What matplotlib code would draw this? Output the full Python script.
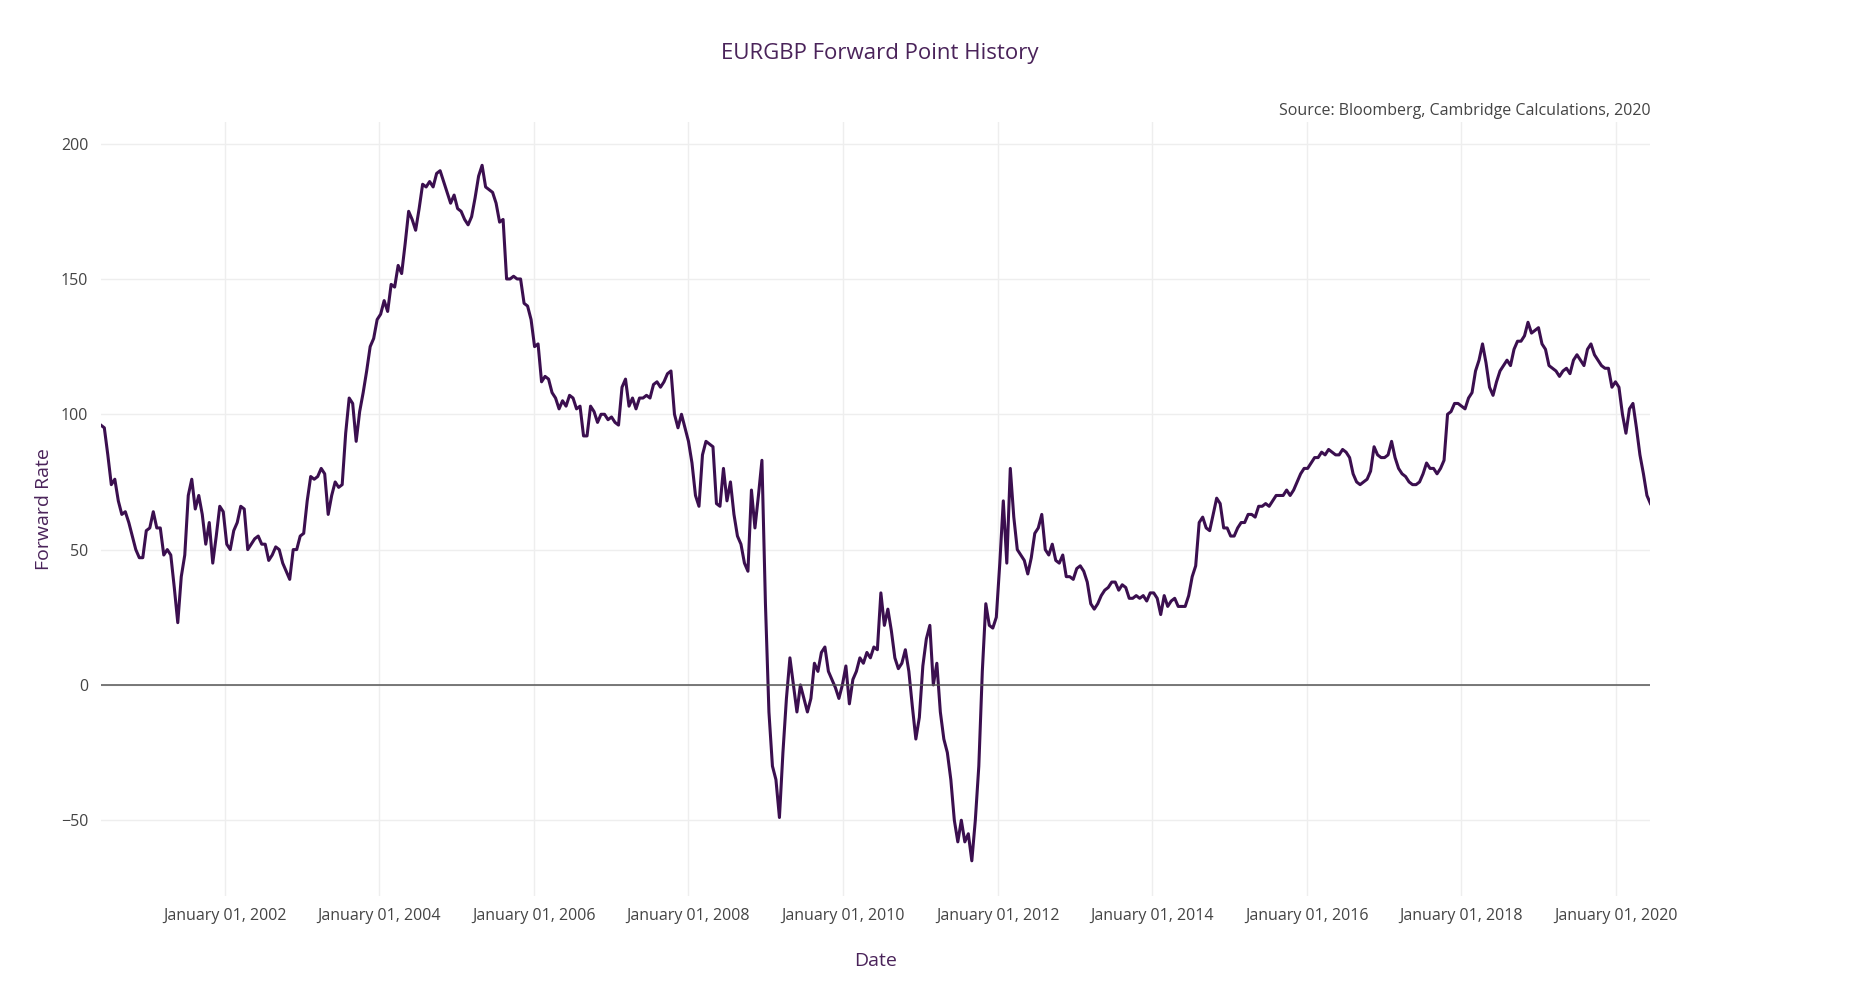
import numpy as np
import matplotlib.pyplot as plt
import matplotlib.dates as mdates
import datetime as dt

# forward points, roughly evenly spaced from mid-2000 to mid-2020
points = [96, 95, 85, 74, 76, 68, 63, 64, 60, 55, 50, 47, 47, 57, 58, 64, 58, 58, 48, 50, 48, 36, 23, 40, 48,
          70, 76, 65, 70, 63, 52, 60, 45, 55, 66, 64, 52, 50, 57, 60, 66, 65, 50, 52, 54, 55, 52, 52, 46, 48,
          51, 50, 45, 42, 39, 50, 50, 55, 56, 68, 77, 76, 77, 80, 78, 63, 70, 75, 73, 74, 93, 106, 104, 90, 101,
          108, 116, 125, 128, 135, 137, 142, 138, 148, 147, 155, 152, 163, 175, 172, 168, 176, 185, 184, 186,
          184, 189, 190, 186, 182, 178, 181, 176, 175, 172, 170, 173, 180, 188, 192, 184, 183, 182, 178, 171,
          172, 150, 150, 151, 150, 150, 141, 140, 135, 125, 126, 112, 114, 113, 108, 106, 102, 105, 103, 107,
          106, 102, 103, 92, 92, 103, 101, 97, 100, 100, 98, 99, 97, 96, 110, 113, 103, 106, 102, 106, 106,
          107, 106, 111, 112, 110, 112, 115, 116, 100, 95, 100, 95, 90, 82, 70, 66, 85, 90, 89, 88, 67, 66, 80,
          68, 75, 63, 55, 52, 45, 42, 72, 58, 70, 83, 30, -10, -30, -35, -49, -25, -5, 10, 0, -10, 0, -5, -10,
          -5, 8, 5, 12, 14, 5, 2, -1, -5, 0, 7, -7, 2, 5, 10, 8, 12, 10, 14, 13, 34, 22, 28, 20, 10, 6, 8, 13,
          5, -8, -20, -12, 7, 17, 22, 0, 8, -10, -20, -25, -35, -50, -58, -50, -58, -55, -65, -50, -30, 5, 30,
          22, 21, 25, 45, 68, 45, 80, 62, 50, 48, 46, 41, 47, 56, 58, 63, 50, 48, 52, 46, 45, 48, 40, 40, 39,
          43, 44, 42, 38, 30, 28, 30, 33, 35, 36, 38, 38, 35, 37, 36, 32, 32, 33, 32, 33, 31, 34, 34, 32, 26,
          33, 29, 31, 32, 29, 29, 29, 33, 40, 44, 60, 62, 58, 57, 63, 69, 67, 58, 58, 55, 55, 58, 60, 60, 63,
          63, 62, 66, 66, 67, 66, 68, 70, 70, 70, 72, 70, 72, 75, 78, 80, 80, 82, 84, 84, 86, 85, 87, 86, 85,
          85, 87, 86, 84, 78, 75, 74, 75, 76, 79, 88, 85, 84, 84, 85, 90, 84, 80, 78, 77, 75, 74, 74, 75, 78,
          82, 80, 80, 78, 80, 83, 100, 101, 104, 104, 103, 102, 106, 108, 116, 120, 126, 119, 110, 107, 112,
          116, 118, 120, 118, 124, 127, 127, 129, 134, 130, 131, 132, 126, 124, 118, 117, 116, 114, 116, 117,
          115, 120, 122, 120, 118, 124, 126, 122, 120, 118, 117, 117, 110, 112, 110, 100, 93, 102, 104, 95, 85,
          78, 70, 67]
start_date = dt.datetime(2000, 5, 26)
end_date = dt.datetime(2020, 6, 12)

span = (end_date - start_date).total_seconds()
dates = [start_date + dt.timedelta(seconds=span * i / (len(points) - 1)) for i in range(len(points))]

plt.rcParams['font.family'] = ['Open Sans', 'DejaVu Sans']
purple = '#3b0f4f'
text_col = '#4a235a'

fig = plt.figure(figsize=(18.67, 10), dpi=100)
ax = fig.add_axes([0.054, 0.104, 0.830, 0.774])
ax.plot(dates, points, color=purple, lw=2.2)
ax.axhline(0, color='#555555', lw=1.1)

ax.set_xlim(start_date, end_date)
ax.set_ylim(-78, 208)
ax.set_yticks([-50, 0, 50, 100, 150, 200])
ax.set_yticklabels(['\u221250', '0', '50', '100', '150', '200'])
ax.set_xticks([dt.datetime(y, 1, 1) for y in range(2002, 2021, 2)])
ax.xaxis.set_major_formatter(mdates.DateFormatter('January 01, %Y'))
ax.grid(color='#eeeeee', lw=1)
for s in ax.spines.values():
    s.set_visible(False)
ax.tick_params(length=0, labelsize=11.5, colors='#444444', pad=9)

ax.set_xlabel('Date', fontsize=14, color=text_col, labelpad=20)
ax.set_ylabel('Forward Rate', fontsize=14, color=text_col, labelpad=6)
fig.text(0.471, 0.946, 'EURGBP Forward Point History', ha='center', va='center',
         fontsize=16, color=text_col)
ax.text(1.0, 1.014, 'Source: Bloomberg, Cambridge Calculations, 2020', transform=ax.transAxes,
        ha='right', va='center', fontsize=11.5, color='#444444')

fig.savefig('out.png', dpi=100)
